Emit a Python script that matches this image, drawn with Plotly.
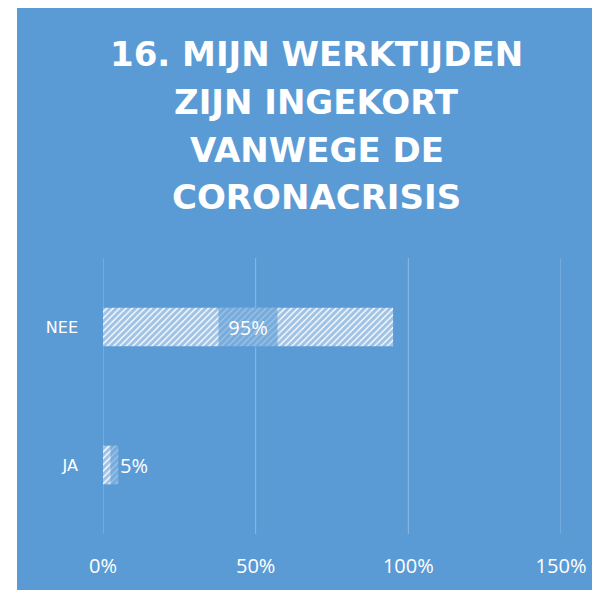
import plotly.graph_objects as go

categories = ["JA", "NEE"]
values = [0.05, 0.95]
value_labels = ["5%", "95%"]
title_lines = ["16. MIJN WERKTIJDEN", "ZIJN INGEKORT", "VANWEGE DE", "CORONACRISIS"]
tick_vals = [0, 0.5, 1.0, 1.5]
tick_text = ["0%", "50%", "100%", "150%"]

BLUE = "#5B9BD5"
W, H = 592, 582
ML, MR, MT, MB = 95, 39, 250, 56
PW, PH = W - ML - MR, H - MT - MB

fig = go.Figure()
fig.add_trace(go.Bar(
    y=categories, x=values, orientation="h", width=0.28,
    marker=dict(color="white", line=dict(width=0),
                pattern=dict(shape="/", fgcolor="#3F86CC", bgcolor="white", size=4.5, solidity=0.7)),
    hoverinfo="skip",
))

def px_x(p):
    return (p - ML) / PW

def px_y(p):
    return 1 - (p - MT) / PH

shapes = [dict(type="rect", xref="paper", yref="paper", layer="below",
               x0=px_x(9), x1=px_x(W + 20), y0=px_y(0), y1=px_y(H + 20),
               fillcolor=BLUE, line=dict(width=0))]
for tv in tick_vals:
    shapes.append(dict(type="line", xref="x", yref="paper", layer="below",
                       x0=tv, x1=tv, y0=0, y1=1,
                       line=dict(color="rgba(255,255,255,0.3)", width=1)))

annotations = []
for i, t in enumerate(title_lines):
    annotations.append(dict(text=t, xref="paper", yref="paper", x=px_x(308.5), y=px_y(46 + 47.8 * i),
                            xanchor="center", yanchor="middle", showarrow=False,
                            font=dict(family="DejaVu Sans", size=34, color="white", weight="bold")))

LABEL_FONT = dict(family="Open Sans", size=20, color="white")
for c, v, lab in zip(categories, values, value_labels):
    if v > 0.2:
        annotations.append(dict(text=lab, x=v / 2, y=c, xref="x", yref="y", showarrow=False,
                                xanchor="center", yanchor="middle", width=58, height=39,
                                bgcolor="rgba(91,155,213,0.6)", borderpad=0, font=LABEL_FONT))
    else:
        annotations.append(dict(text=lab, x=v, y=c, xref="x", yref="y", showarrow=False,
                                xanchor="left", yanchor="middle", xshift=-8, width=46, height=39,
                                bgcolor="rgba(91,155,213,0.6)", borderpad=0, font=LABEL_FONT))

fig.update_layout(
    width=W, height=H, paper_bgcolor="white", plot_bgcolor="rgba(0,0,0,0)",
    margin=dict(l=ML, r=MR, t=MT, b=MB),
    showlegend=False, shapes=shapes, annotations=annotations,
    xaxis=dict(range=[0, 1.5], tickvals=tick_vals, ticktext=tick_text, showgrid=False,
               zeroline=False, showline=False,
               tickfont=dict(family="Open Sans", size=20, color="white"), ticks="",
               ticklabelstandoff=18, fixedrange=True),
    yaxis=dict(categoryorder="array", categoryarray=categories, showgrid=False, zeroline=False,
               showline=False, ticks="", ticklabelstandoff=24,
               tickfont=dict(family="DejaVu Sans", size=16, color="white"), fixedrange=True),
)
fig.write_html("out.html")
